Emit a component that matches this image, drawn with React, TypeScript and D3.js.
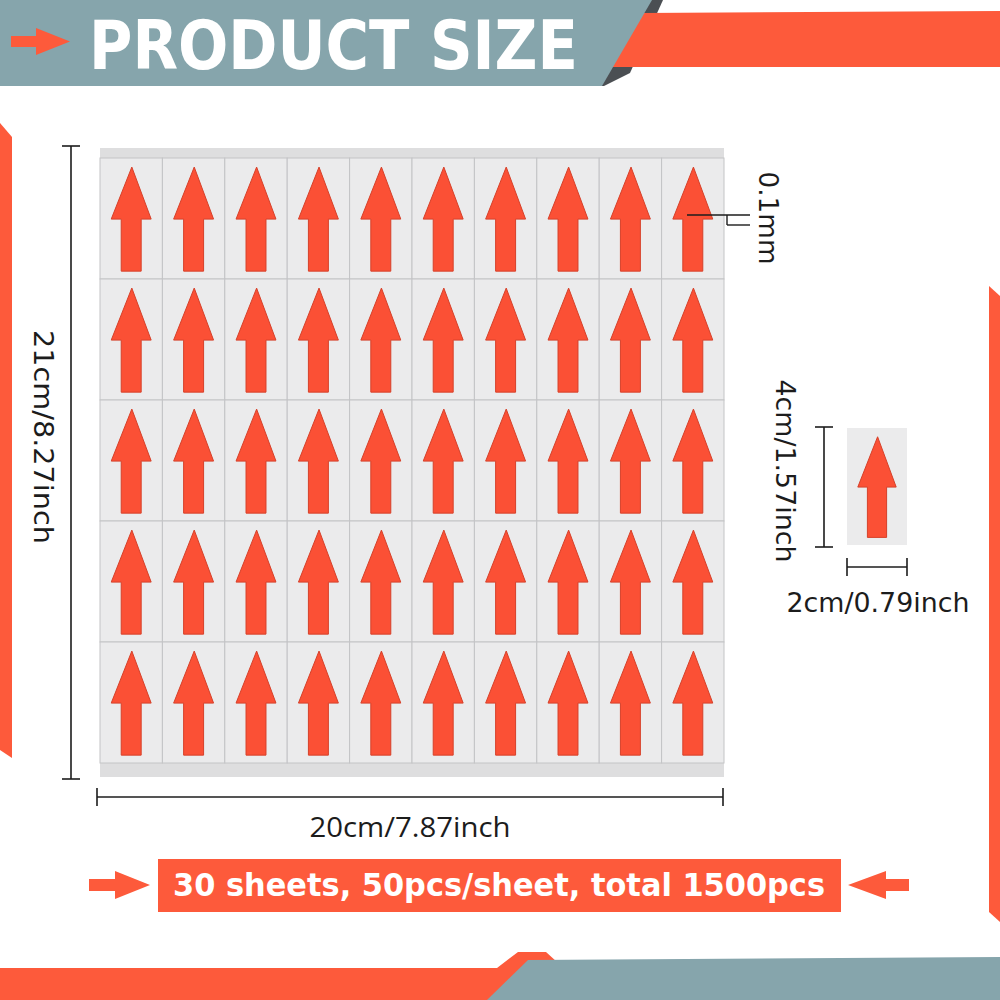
import * as d3 from 'd3';

// sticker sheet layout: 10 columns x 5 rows
const COLUMNS = ['c1', 'c2', 'c3', 'c4', 'c5', 'c6', 'c7', 'c8', 'c9', 'c10'];
const ROWS = ['r1', 'r2', 'r3', 'r4', 'r5'];

// text labels
const TITLE = 'PRODUCT SIZE';
const SHEET_HEIGHT_LABEL = '21cm/8.27inch';
const SHEET_WIDTH_LABEL = '20cm/7.87inch';
const THICKNESS_LABEL = '0.1mm';
const STICKER_HEIGHT_LABEL = '4cm/1.57inch';
const STICKER_WIDTH_LABEL = '2cm/0.79inch';
const QUANTITY_LABEL = '30 sheets, 50pcs/sheet, total 1500pcs';

// arrow outline, in sticker-relative units (0..1)
const ARROW_X = [0.51, 0.82, 0.66, 0.66, 0.34, 0.34, 0.18];
const ARROW_Y = [0.075, 0.505, 0.505, 0.935, 0.935, 0.505, 0.505];

const ORANGE = '#fd5a3b';
const ARROW_RED = '#fb5035';
const SLATE = '#86a5ac';
const SHADOW = '#4b4f53';
const INK = '#1c1c1c';

const SHEET = { left: 100, right: 724, top: 148, bottom: 777, stripTop: 10, stripBottom: 14 };
const SINGLE = { left: 847, right: 907, top: 428, bottom: 545 };

const poly = (pts: [number, number][]) => (d3.line()(pts) ?? '') + 'Z';

const arrowPath = (x0: number, y0: number, w: number, h: number) => {
  const sx = d3.scaleLinear().domain([0, 1]).range([x0, x0 + w]);
  const sy = d3.scaleLinear().domain([0, 1]).range([y0, y0 + h]);
  const pts = ARROW_X.map((v, i) => [sx(v), sy(ARROW_Y[i])] as [number, number]);
  return poly(pts);
};

const DimV = ({ x, y1, y2 }: { x: number; y1: number; y2: number }) => (
  <g stroke={INK} strokeWidth={1.6}>
    <line x1={x} x2={x} y1={y1} y2={y2} />
    <line x1={x - 9} x2={x + 9} y1={y1} y2={y1} />
    <line x1={x - 9} x2={x + 9} y1={y2} y2={y2} />
  </g>
);

const DimH = ({ y, x1, x2 }: { y: number; x1: number; x2: number }) => (
  <g stroke={INK} strokeWidth={1.6}>
    <line x1={x1} x2={x2} y1={y} y2={y} />
    <line x1={x1} x2={x1} y1={y - 9} y2={y + 9} />
    <line x1={x2} x2={x2} y1={y - 9} y2={y + 9} />
  </g>
);

const App = () => {
  const xScale = d3
    .scaleBand()
    .domain(COLUMNS)
    .range([SHEET.left, SHEET.right]);
  const yScale = d3
    .scaleBand()
    .domain(ROWS)
    .range([SHEET.top + SHEET.stripTop, SHEET.bottom - SHEET.stripBottom]);

  const cells = ROWS.flatMap((r) =>
    COLUMNS.map((c) => {
      const x = xScale(c) ?? 0;
      const y = yScale(r) ?? 0;
      return (
        <g key={r + c}>
          <rect
            x={x}
            y={y}
            width={xScale.bandwidth()}
            height={yScale.bandwidth()}
            fill="#ebebec"
            stroke="#c3c4c6"
            strokeWidth={1}
          />
          <path
            d={arrowPath(x, y, xScale.bandwidth(), yScale.bandwidth())}
            fill={ARROW_RED}
            stroke="#d6412a"
            strokeWidth={1}
          />
        </g>
      );
    })
  );

  const dimFont = { fontFamily: 'DejaVu Sans', fontSize: 26, fill: INK };

  return (
    <svg
      width={1000}
      height={1000}
      style={{ position: 'absolute', left: 0, top: 0, background: '#fff' }}
    >
      {/* header */}
      <path d={poly([[640, 0], [663, 0], [630, 73], [604, 86], [560, 86]])} fill={SHADOW} />
      <path d={poly([[642, 13], [1000, 11], [1000, 67], [612, 67]])} fill={ORANGE} />
      <path d={poly([[0, 0], [652, 0], [602, 86], [0, 86]])} fill={SLATE} />
      <path
        d={poly([[11, 36], [36, 36], [36, 28], [70, 41.5], [36, 55], [36, 47], [11, 47]])}
        fill={ORANGE}
      />
      <text
        x={89}
        y={69}
        textLength={489}
        lengthAdjust="spacingAndGlyphs"
        fontFamily="DejaVu Sans Condensed"
        fontWeight={700}
        fontSize={68}
        fill="#fff"
      >
        {TITLE}
      </text>

      {/* side accents */}
      <path d={poly([[0, 123], [12, 137], [12, 758], [0, 750]])} fill={ORANGE} />
      <path d={poly([[989, 286], [1000, 296], [1000, 922], [989, 912]])} fill={ORANGE} />

      {/* sheet */}
      <rect
        x={SHEET.left}
        y={SHEET.top}
        width={SHEET.right - SHEET.left}
        height={SHEET.bottom - SHEET.top}
        fill="#dededf"
      />
      {cells}

      {/* sheet dimensions */}
      <DimV x={71} y1={146} y2={779} />
      <text
        transform="translate(43,437) rotate(90)"
        textAnchor="middle"
        dominantBaseline="central"
        textLength={214}
        lengthAdjust="spacingAndGlyphs"
        {...dimFont}
      >
        {SHEET_HEIGHT_LABEL}
      </text>
      <DimH y={797} x1={97} x2={723} />
      <text
        x={410}
        y={837}
        textAnchor="middle"
        textLength={201}
        lengthAdjust="spacingAndGlyphs"
        {...dimFont}
        fontFamily="Open Sans"
        fontSize={28}
      >
        {SHEET_WIDTH_LABEL}
      </text>

      {/* thickness marker */}
      <g stroke={INK} strokeWidth={1.4}>
        <line x1={687} x2={750} y1={215} y2={215} />
        <line x1={727} x2={727} y1={215} y2={225} />
        <line x1={727} x2={750} y1={225} y2={225} />
      </g>
      <text
        transform="translate(768,218) rotate(90)"
        textAnchor="middle"
        dominantBaseline="central"
        textLength={93}
        lengthAdjust="spacingAndGlyphs"
        {...dimFont}
      >
        {THICKNESS_LABEL}
      </text>

      {/* single sticker */}
      <rect
        x={SINGLE.left}
        y={SINGLE.top}
        width={SINGLE.right - SINGLE.left}
        height={SINGLE.bottom - SINGLE.top}
        fill="#ebebec"
      />
      <path
        d={arrowPath(SINGLE.left, SINGLE.top, SINGLE.right - SINGLE.left, SINGLE.bottom - SINGLE.top)}
        fill={ARROW_RED}
        stroke="#d6412a"
        strokeWidth={1}
      />
      <DimV x={824} y1={427} y2={547} />
      <text
        transform="translate(785,471) rotate(90)"
        textAnchor="middle"
        dominantBaseline="central"
        textLength={183}
        lengthAdjust="spacingAndGlyphs"
        {...dimFont}
      >
        {STICKER_HEIGHT_LABEL}
      </text>
      <DimH y={567} x1={847} x2={907} />
      <text
        x={878}
        y={612}
        textAnchor="middle"
        textLength={183}
        lengthAdjust="spacingAndGlyphs"
        {...dimFont}
      >
        {STICKER_WIDTH_LABEL}
      </text>

      {/* quantity banner */}
      <path
        d={poly([[89, 879], [115, 879], [115, 871], [150, 885], [115, 899], [115, 891], [89, 891]])}
        fill={ORANGE}
      />
      <path
        d={poly([[909, 879], [886, 879], [886, 871], [848, 885], [886, 899], [886, 891], [909, 891]])}
        fill={ORANGE}
      />
      <rect x={158} y={859} width={683} height={53} fill={ORANGE} />
      <text
        x={173}
        y={896}
        textLength={652}
        lengthAdjust="spacingAndGlyphs"
        fontFamily="DejaVu Sans Condensed"
        fontWeight={700}
        fontSize={32}
        fill="#fff"
      >
        {QUANTITY_LABEL}
      </text>

      {/* footer */}
      <path
        d={poly([[0, 968], [497, 968], [518, 952], [546, 952], [557, 962], [520, 1000], [0, 1000]])}
        fill={ORANGE}
      />
      <path d={poly([[528, 960], [1000, 957], [1000, 1000], [487, 1000]])} fill={SLATE} />
    </svg>
  );
};

export default App;
